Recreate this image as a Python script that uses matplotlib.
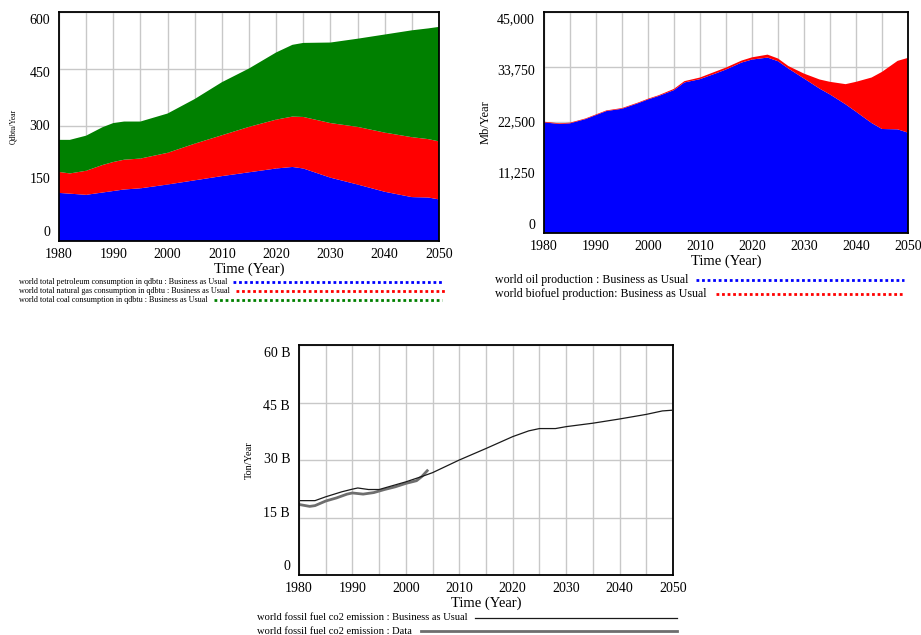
import matplotlib
matplotlib.use("Agg")
import matplotlib.pyplot as plt
from matplotlib.lines import Line2D

plt.rcParams["font.family"] = ["Liberation Serif", "DejaVu Serif"]

# --- energy consumption (qdbtu/year), stacked
years_energy = [1980, 1982, 1985, 1988, 1990, 1992, 1995, 2000, 2005, 2010,
                2015, 2020, 2023, 2025, 2030, 2035, 2040, 2045, 2048, 2050]
petroleum = [126, 124, 121, 127, 131, 135, 138, 148, 159, 170,
             180, 190, 194, 190, 166, 148, 129, 115, 114, 109]
natural_gas = [55, 53, 63, 72, 76, 78, 78, 83, 96, 107,
               119, 128, 132, 135, 143, 151, 155, 157, 153, 152]
coal = [84, 88, 92, 99, 102, 100, 97, 103, 117, 139,
        153, 176, 188, 194, 211, 231, 257, 280, 290, 300]

# --- liquids production (Mb/year), stacked
years_oil = [1980, 1983, 1985, 1988, 1990, 1992, 1995, 1998, 2000, 2002,
             2005, 2007, 2010, 2013, 2015, 2018, 2020, 2023, 2025, 2027,
             2030, 2033, 2035, 2038, 2040, 2043, 2045, 2048, 2050]
oil = [22530, 22190, 22330, 23200, 24020, 24830, 25300, 26390, 27200, 27880,
       29100, 30650, 31330, 32480, 33290, 34710, 35320, 35720, 34980, 33490,
       31460, 29400, 28210, 26200, 24700, 22400, 21180, 21110, 20430]
biofuel = [130, 140, 130, 130, 130, 130, 140, 140, 140, 150,
           250, 270, 330, 400, 400, 400, 450, 600, 550, 500,
           1000, 1860, 2570, 4110, 6080, 9260, 11630, 13940, 15230]

# --- fossil fuel CO2 emission (billion ton/year)
years_bau = [1980, 1983, 1985, 1988, 1990, 1991, 1993, 1995, 1998, 2000,
             2003, 2005, 2010, 2015, 2020, 2023, 2025, 2028, 2030, 2035,
             2040, 2045, 2048, 2050]
co2_bau = [19.4, 19.4, 20.4, 21.7, 22.4, 22.7, 22.3, 22.3, 23.5, 24.3,
           25.7, 26.7, 30.0, 33.0, 36.1, 37.6, 38.2, 38.2, 38.7, 39.6,
           40.7, 41.9, 42.8, 43.0]
years_data = [1980, 1982, 1983, 1985, 1987, 1989, 1990, 1992, 1994, 1996,
              1998, 2000, 2002, 2003, 2004]
co2_data = [18.4, 17.9, 18.1, 19.3, 20.1, 21.1, 21.4, 21.1, 21.5, 22.3,
            23.0, 23.9, 24.6, 25.7, 27.2]

BLUE, RED, GREEN = "#0000ff", "#ff0000", "#008000"
GRID = "#c8c8c8"
W, H = 921, 635

fig = plt.figure(figsize=(W / 100, H / 100), dpi=100)


def box(l, t, r, b):
    return [l / W, 1 - b / H, (r - l) / W, (b - t) / H]


def style(ax, ymax, yticks, ylabels, width_px):
    ax.set_xlim(1980, 2050)
    ax.set_ylim(0, ymax)
    ax.set_xticks(range(1980, 2051, 10))
    ax.set_xticks(range(1985, 2050, 10), minor=True)
    ax.set_yticks(yticks)
    ax.grid(True, which="both", color=GRID, lw=1.0)
    ax.set_axisbelow(True)
    ax.tick_params(which="both", length=0, labelsize=10, pad=5, labelleft=False)
    for s in ax.spines.values():
        s.set_color("black")
        s.set_linewidth(1.3)
    ax.set_xlabel("Time (Year)", fontsize=10.5, labelpad=1)
    # Vensim spaces the value labels a little inside the axis range
    for i, lab in enumerate(ylabels):
        ax.text(-9 / width_px, 0.035 + i * 0.2325, lab, transform=ax.transAxes,
                ha="right", va="center", fontsize=10)


def ylabel(x, y, text, size):
    fig.text(x / W, 1 - y / H, text, rotation=90, ha="center", va="center",
             fontsize=size)


# top-left: consumption
ax1 = fig.add_axes(box(59, 12, 439, 241))
ax1.stackplot(years_energy, petroleum, natural_gas, coal,
              colors=[BLUE, RED, GREEN], lw=0)
style(ax1, 600, [0, 150, 300, 450, 600], ["0", "150", "300", "450", "600"], 380)
ylabel(13, 126, "Qdbtu/Year", 5.5)

# top-right: oil + biofuel
ax2 = fig.add_axes(box(544, 12, 908, 233))
ax2.stackplot(years_oil, oil, biofuel, colors=[BLUE, RED], lw=0)
style(ax2, 45000, [0, 11250, 22500, 33750, 45000],
      ["0", "11,250", "22,500", "33,750", "45,000"], 364)
ylabel(486, 122, "Mb/Year", 9)

# bottom: CO2
ax3 = fig.add_axes(box(299, 345, 673, 575))
ax3.plot(years_bau, co2_bau, color="#1a1a1a", lw=0.9, zorder=3)
ax3.plot(years_data, co2_data, color="#6e6e6e", lw=2.0, zorder=2)
style(ax3, 60, [0, 15, 30, 45, 60], ["0", "15 B", "30 B", "45 B", "60 B"], 374)
ylabel(249, 460, "Ton/Year", 7.5)

renderer = fig.canvas.get_renderer()


def legend_row(x, y, text, size, x_end, gap, **line_kw):
    t = fig.text(x / W, 1 - y / H, text, fontsize=size, ha="left", va="center")
    bb = t.get_window_extent(renderer)
    x0 = bb.x1 + gap
    fig.add_artist(Line2D([x0 / W, x_end / W], [1 - y / H] * 2,
                          transform=fig.transFigure, **line_kw))


dots = dict(ls=(0, (1, 1)), lw=2.0, solid_capstyle="butt", dash_capstyle="butt")
legend_row(19, 282, "world total petroleum consumption in qdbtu : Business as Usual",
           5.9, 442, 6, color=BLUE, **dots)
legend_row(19, 291, "world total natural gas consumption in qdbtu : Business as Usual",
           5.9, 445, 6, color=RED, **dots)
legend_row(19, 300, "world total coal consumption in qdbtu : Business as Usual",
           5.9, 442, 6, color=GREEN, **dots)

legend_row(495, 280, "world oil production : Business as Usual",
           8.55, 904, 8, color=BLUE, **dots)
legend_row(495, 294, "world biofuel production: Business as Usual",
           8.55, 904, 9, color=RED, **dots)

legend_row(257, 618, "world fossil fuel co2 emission : Business as Usual",
           7.6, 677, 7, color="#1a1a1a", lw=0.9)
legend_row(257, 631, "world fossil fuel co2 emission : Data",
           7.6, 677, 9, color="#6e6e6e", lw=2.0)

fig.savefig("out.png", dpi=100)
